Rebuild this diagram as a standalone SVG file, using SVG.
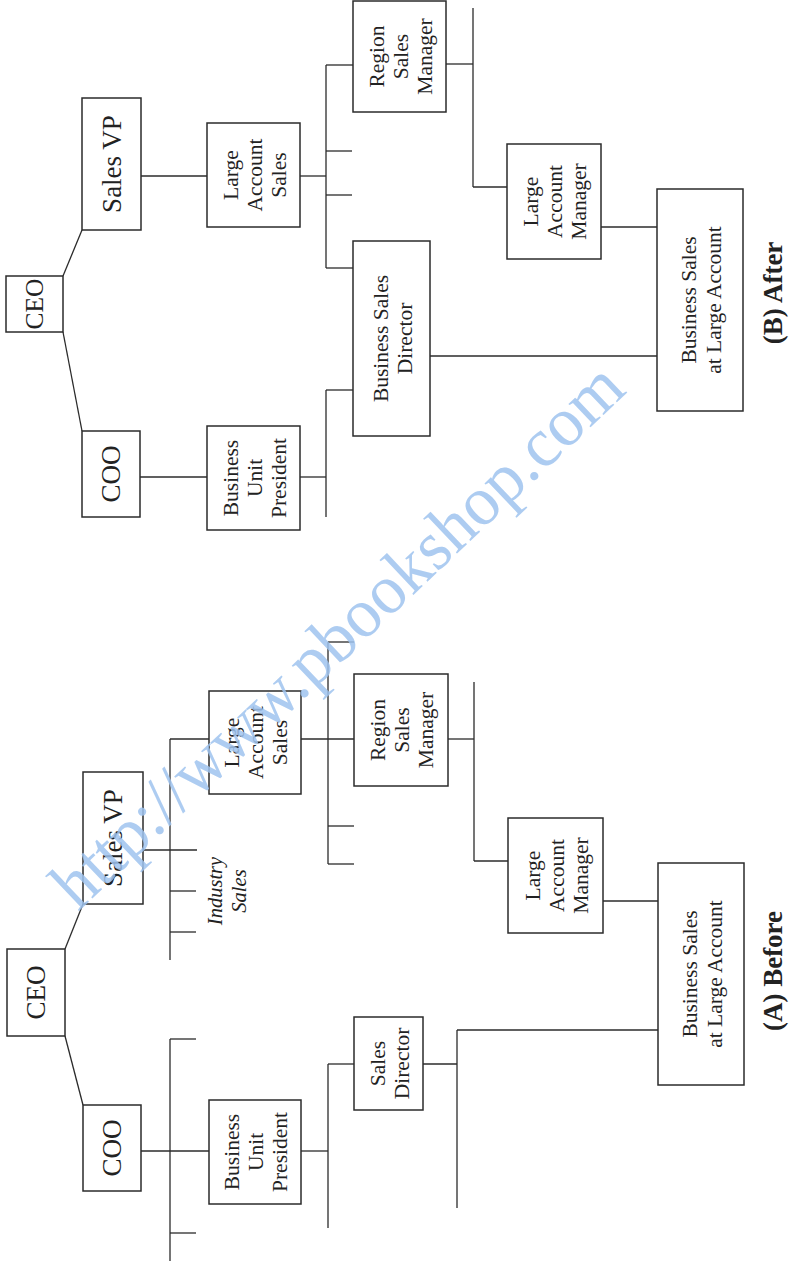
<svg xmlns="http://www.w3.org/2000/svg" width="789" height="1268" viewBox="0 0 789 1268">
<style>
rect.box{fill:#fff;stroke:#2b2b2b;stroke-width:1.5}
.conn line{stroke:#2b2b2b;stroke-width:1.3}
text{font-family:"Liberation Serif","DejaVu Serif",serif;fill:#222;text-anchor:middle}
.big{font-size:27px}
.lbl{font-size:21.5px}
.ital{font-size:20.5px;font-style:italic}
.cap{font-size:27px;font-weight:bold}
.wm{font-size:70px;fill:#9fc3ef;fill-opacity:0.85;text-anchor:start}
</style>
<rect width="789" height="1268" fill="#fff"/>
<g class="conn" id="connectors">
<line x1="63" y1="276" x2="82" y2="230"/>
<line x1="63" y1="332" x2="82" y2="431"/>
<line x1="141" y1="176" x2="207" y2="176"/>
<line x1="300" y1="176" x2="326" y2="176"/>
<line x1="326" y1="65" x2="326" y2="268"/>
<line x1="326" y1="65" x2="353" y2="65"/>
<line x1="326" y1="151" x2="352" y2="151"/>
<line x1="326" y1="195" x2="352" y2="195"/>
<line x1="326" y1="268" x2="353" y2="268"/>
<line x1="446" y1="64" x2="473" y2="64"/>
<line x1="473" y1="8" x2="473" y2="187"/>
<line x1="473" y1="187" x2="507" y2="187"/>
<line x1="601" y1="227" x2="657" y2="227"/>
<line x1="430" y1="356" x2="657" y2="356"/>
<line x1="140" y1="477" x2="207" y2="477"/>
<line x1="300" y1="477" x2="326" y2="477"/>
<line x1="326" y1="390" x2="326" y2="517"/>
<line x1="326" y1="390" x2="353" y2="390"/>
<line x1="65" y1="949" x2="83" y2="904"/>
<line x1="65" y1="1036" x2="83" y2="1105"/>
<line x1="143" y1="850" x2="197" y2="850"/>
<line x1="170" y1="739" x2="170" y2="960"/>
<line x1="170" y1="739" x2="209" y2="739"/>
<line x1="170" y1="891" x2="196" y2="891"/>
<line x1="170" y1="932" x2="196" y2="932"/>
<line x1="301" y1="739" x2="354" y2="739"/>
<line x1="328" y1="642" x2="328" y2="864"/>
<line x1="328" y1="642" x2="354" y2="642"/>
<line x1="328" y1="826" x2="354" y2="826"/>
<line x1="328" y1="864" x2="354" y2="864"/>
<line x1="448" y1="739" x2="474" y2="739"/>
<line x1="474" y1="682" x2="474" y2="861"/>
<line x1="474" y1="861" x2="508" y2="861"/>
<line x1="603" y1="901" x2="658" y2="901"/>
<line x1="423" y1="1064" x2="457" y2="1064"/>
<line x1="457" y1="1030" x2="457" y2="1208"/>
<line x1="457" y1="1030" x2="658" y2="1030"/>
<line x1="141" y1="1151" x2="209" y2="1151"/>
<line x1="170" y1="1039" x2="170" y2="1261"/>
<line x1="170" y1="1039" x2="196" y2="1039"/>
<line x1="170" y1="1233" x2="196" y2="1233"/>
<line x1="301" y1="1151" x2="328" y2="1151"/>
<line x1="328" y1="1064" x2="328" y2="1228"/>
<line x1="328" y1="1064" x2="354" y2="1064"/>
</g>
<!-- (B) After -->
<g id="b-ceo"><rect class="box" x="6" y="276" width="57" height="56"/><text class="big" style="font-size:25.5px" transform="translate(34.5 304) rotate(-90)" y="8.5">CEO</text></g>
<g id="b-salesvp"><rect class="box" x="82" y="98" width="59" height="132"/><text class="big" transform="translate(111.5 164) rotate(-90)" y="9">Sales VP</text></g>
<g id="b-coo"><rect class="box" x="82" y="431" width="58" height="86"/><text class="big" transform="translate(111 474) rotate(-90)" y="9">COO</text></g>
<g id="b-las"><rect class="box" x="207" y="123" width="93" height="104"/><text class="lbl" transform="translate(253.5 175) rotate(-90)"><tspan x="0" y="-16">Large</tspan><tspan x="0" y="8">Account</tspan><tspan x="0" y="32">Sales</tspan></text></g>
<g id="b-rsm"><rect class="box" x="353" y="1" width="93" height="111"/><text class="lbl" transform="translate(399.5 56.5) rotate(-90)"><tspan x="0" y="-16">Region</tspan><tspan x="0" y="8">Sales</tspan><tspan x="0" y="32">Manager</tspan></text></g>
<g id="b-lam"><rect class="box" x="507" y="144" width="94" height="115"/><text class="lbl" transform="translate(554 201.5) rotate(-90)"><tspan x="0" y="-16">Large</tspan><tspan x="0" y="8">Account</tspan><tspan x="0" y="32">Manager</tspan></text></g>
<g id="b-bsla"><rect class="box" x="657" y="189" width="86" height="222"/><text class="lbl" transform="translate(700 300) rotate(-90)"><tspan x="0" y="-4.5">Business Sales</tspan><tspan x="0" y="20.5">at Large Account</tspan></text></g>
<g id="b-bsd"><rect class="box" x="353" y="241" width="77" height="195"/><text class="lbl" transform="translate(391.5 338.5) rotate(-90)"><tspan x="0" y="-4">Business Sales</tspan><tspan x="0" y="20">Director</tspan></text></g>
<g id="b-bup"><rect class="box" x="207" y="426" width="93" height="104"/><text class="lbl" transform="translate(253.5 478) rotate(-90)"><tspan x="0" y="-16">Business</tspan><tspan x="0" y="8">Unit</tspan><tspan x="0" y="32">President</tspan></text></g>
<g id="b-caption"><text class="cap" transform="translate(782 293) rotate(-90)">(B) After</text></g>
<!-- (A) Before -->
<g id="a-ceo"><rect class="box" x="7" y="949" width="58" height="87"/><text class="big" transform="translate(36 992.5) rotate(-90)" y="9">CEO</text></g>
<g id="a-salesvp"><rect class="box" x="83" y="772" width="60" height="132"/><text class="big" transform="translate(113 838) rotate(-90)" y="9">Sales VP</text></g>
<g id="a-coo"><rect class="box" x="83" y="1105" width="58" height="86"/><text class="big" transform="translate(112 1148) rotate(-90)" y="9">COO</text></g>
<g id="a-industry"><text class="ital" transform="translate(233 891) rotate(-90)"><tspan x="0" y="-11">Industry</tspan><tspan x="0" y="13">Sales</tspan></text></g>
<g id="a-las"><rect class="box" x="209" y="691" width="92" height="103"/><text class="lbl" transform="translate(255 742.5) rotate(-90)"><tspan x="0" y="-16">Large</tspan><tspan x="0" y="8">Account</tspan><tspan x="0" y="32">Sales</tspan></text></g>
<g id="a-rsm"><rect class="box" x="354" y="674" width="94" height="112"/><text class="lbl" transform="translate(401 730) rotate(-90)"><tspan x="0" y="-16">Region</tspan><tspan x="0" y="8">Sales</tspan><tspan x="0" y="32">Manager</tspan></text></g>
<g id="a-lam"><rect class="box" x="508" y="818" width="95" height="115"/><text class="lbl" transform="translate(555.5 875.5) rotate(-90)"><tspan x="0" y="-16">Large</tspan><tspan x="0" y="8">Account</tspan><tspan x="0" y="32">Manager</tspan></text></g>
<g id="a-bsla"><rect class="box" x="658" y="863" width="86" height="222"/><text class="lbl" transform="translate(701 974) rotate(-90)"><tspan x="0" y="-4.5">Business Sales</tspan><tspan x="0" y="20.5">at Large Account</tspan></text></g>
<g id="a-sd"><rect class="box" x="354" y="1017" width="69" height="93"/><text class="lbl" transform="translate(388.5 1063.5) rotate(-90)"><tspan x="0" y="-4">Sales</tspan><tspan x="0" y="20">Director</tspan></text></g>
<g id="a-bup"><rect class="box" x="209" y="1100" width="92" height="104"/><text class="lbl" transform="translate(255 1152) rotate(-90)"><tspan x="0" y="-16">Business</tspan><tspan x="0" y="8">Unit</tspan><tspan x="0" y="32">President</tspan></text></g>
<g id="a-caption"><text class="cap" transform="translate(782 971) rotate(-90)">(A) Before</text></g>
<text class="wm" transform="translate(78 912) rotate(-43.4)" textLength="757" lengthAdjust="spacingAndGlyphs">http://www.pbookshop.com</text>
</svg>
